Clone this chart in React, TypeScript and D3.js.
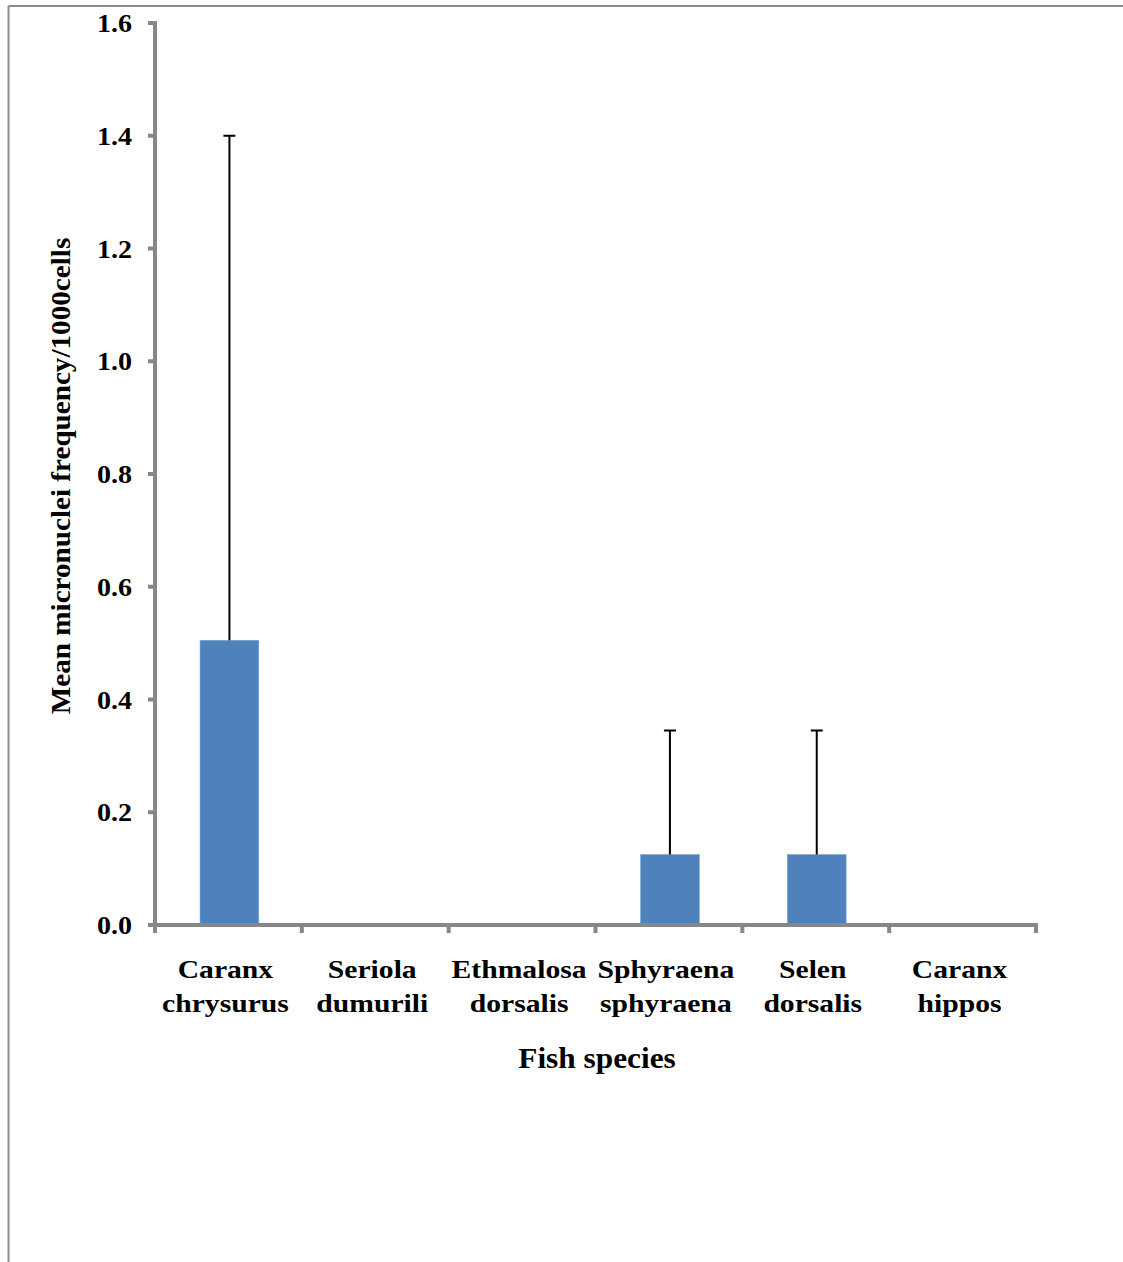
import React from "react";
import * as d3 from "d3";

// Mean micronuclei frequency per 1000 cells by fish species
const species: string[][] = [
  ["Caranx", "chrysurus"],
  ["Seriola", "dumurili"],
  ["Ethmalosa", "dorsalis"],
  ["Sphyraena", "sphyraena"],
  ["Selen", "dorsalis"],
  ["Caranx", "hippos"],
];
const means: number[] = [0.505, 0, 0, 0.125, 0.125, 0];
const errors: number[] = [0.895, 0, 0, 0.22, 0.22, 0];
const yTicks: number[] = [0, 0.2, 0.4, 0.6, 0.8, 1.0, 1.2, 1.4, 1.6];

const W = 1123;
const H = 1262;
const left = 155;
const right = 1036;
const top = 23;
const bottom = 925;
const font = "'Liberation Serif', 'Times New Roman', serif";
const axisColor = "#878787";
const stretch = 1.08;

export default function App() {
  const x = d3
    .scaleBand<number>()
    .domain(d3.range(species.length))
    .range([left, right])
    .paddingInner(0)
    .paddingOuter(0);
  const y = d3.scaleLinear().domain([0, 1.6]).range([bottom, top]);
  const bw = x.bandwidth() * 0.4;
  const tickEdges = d3.range(species.length + 1).map((i) => left + i * x.bandwidth());

  return (
    <svg
      width={W}
      height={H}
      style={{ position: "absolute", left: 0, top: 0, background: "#fff" }}
    >
      {/* frame */}
      <line x1={8.5} y1={6} x2={W} y2={6} stroke="#8c8c8c" strokeWidth={2} />
      <line x1={8.5} y1={6} x2={8.5} y2={H} stroke="#8c8c8c" strokeWidth={2} />

      {/* bars */}
      {means.map((m, i) => {
        if (m <= 0) return null;
        const cx = (x(i) as number) + x.bandwidth() / 2 + 1;
        return (
          <rect
            key={"b" + i}
            x={cx - bw / 2}
            y={y(m)}
            width={bw}
            height={y(0) - y(m)}
            fill="#4F81BD"
            stroke="#7fa3d1"
            strokeWidth={0.6}
          />
        );
      })}

      {/* upper error bars */}
      {means.map((m, i) => {
        if (errors[i] <= 0) return null;
        const cx = (x(i) as number) + x.bandwidth() / 2 + 1;
        const yt = y(m + errors[i]);
        return (
          <g key={"e" + i} stroke="#000" strokeWidth={2}>
            <line x1={cx} x2={cx} y1={y(m)} y2={yt} />
            <line x1={cx - 6} x2={cx + 6} y1={yt} y2={yt} />
          </g>
        );
      })}

      {/* y axis */}
      <line x1={left} x2={left} y1={top - 2} y2={bottom + 2} stroke={axisColor} strokeWidth={4} />
      {yTicks.map((t) => (
        <g key={"yt" + t}>
          <line x1={left - 7} x2={left} y1={y(t)} y2={y(t)} stroke={axisColor} strokeWidth={4} />
          <text
            transform={`translate(${132},${y(t) + 9}) scale(${stretch},1)`}
            textAnchor="end"
            fontFamily={font}
            fontWeight="bold"
            fontSize={26}
            fill="#000"
          >
            {t.toFixed(1)}
          </text>
        </g>
      ))}

      {/* x axis */}
      <line x1={left - 2} x2={right + 2} y1={bottom} y2={bottom} stroke={axisColor} strokeWidth={4} />
      {tickEdges.map((tx, i) => (
        <line key={"xt" + i} x1={tx} x2={tx} y1={bottom} y2={bottom + 8} stroke={axisColor} strokeWidth={4} />
      ))}
      {species.map((lines, i) => {
        const cx = (x(i) as number) + x.bandwidth() / 2 - 3;
        return lines.map((ln, j) => (
          <text
            key={"c" + i + j}
            transform={`translate(${cx},${978 + j * 34}) scale(1.14,1)`}
            textAnchor="middle"
            fontFamily={font}
            fontWeight="bold"
            fontSize={26}
            fill="#000"
          >
            {ln}
          </text>
        ));
      })}

      {/* axis titles */}
      <text
        transform={`translate(${597},${1068}) scale(${stretch},1)`}
        textAnchor="middle"
        fontFamily={font}
        fontWeight="bold"
        fontSize={29}
        fill="#000"
      >
        Fish species
      </text>
      <text
        transform={`translate(${70},${476}) rotate(-90) scale(1.06,1)`}
        textAnchor="middle"
        fontFamily={font}
        fontWeight="bold"
        fontSize={27.5}
        fill="#000"
      >
        Mean micronuclei frequency/1000cells
      </text>
    </svg>
  );
}
